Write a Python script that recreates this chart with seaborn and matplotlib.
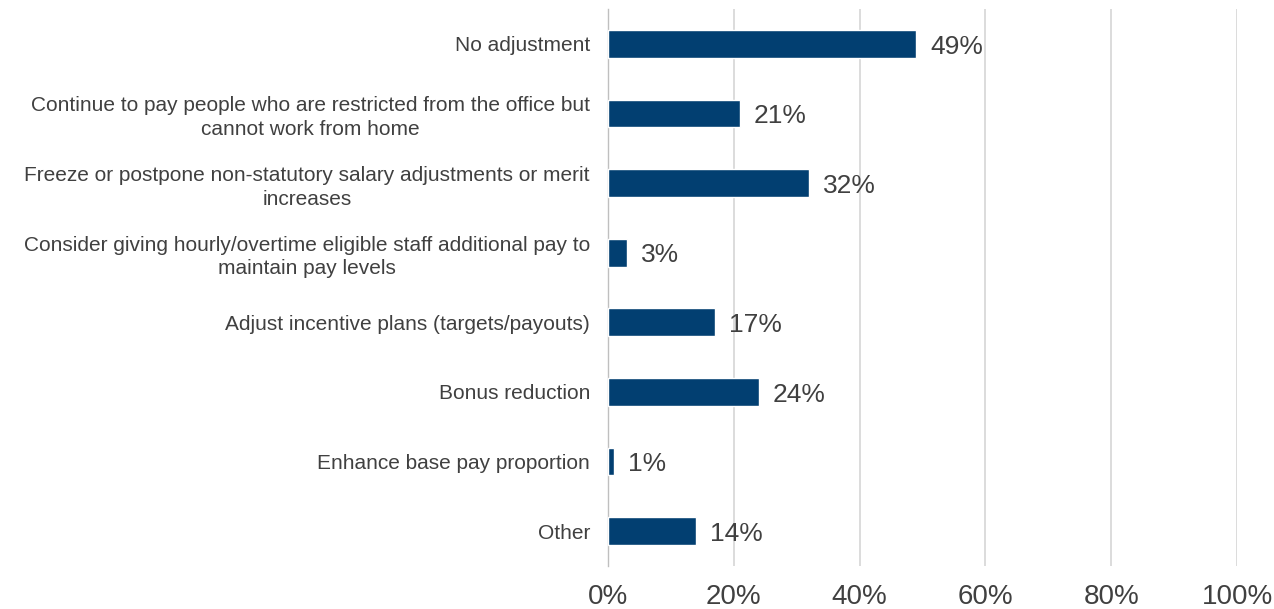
import matplotlib
matplotlib.use("Agg")
import matplotlib.pyplot as plt
import seaborn as sns
import pandas as pd
from matplotlib.ticker import FixedLocator, PercentFormatter

categories = [
    "No adjustment",
    "Continue to pay people who are restricted from the office but\ncannot work from home",
    "Freeze or postpone non-statutory salary adjustments or merit\nincreases",
    "Consider giving hourly/overtime eligible staff additional pay to\nmaintain pay levels",
    "Adjust incentive plans (targets/payouts)",
    "Bonus reduction",
    "Enhance base pay proportion",
    "Other",
]
values = [49, 21, 32, 3, 17, 24, 1, 14]
x_ticks = [0, 20, 40, 60, 80, 100]

bar_color = "#023F71"
text_color = "#404040"
grid_color = "#D9D9D9"

sns.set_theme(style="white")
plt.rcParams["font.family"] = ["Liberation Sans", "DejaVu Sans"]

df = pd.DataFrame({"category": categories, "value": values})

fig = plt.figure(figsize=(12.74, 6.09), dpi=100)
ax = fig.add_axes([608 / 1274, 1 - 566 / 609, (1237 - 608) / 1274, (566 - 9) / 609])

sns.barplot(data=df, x="value", y="category", orient="h", color=bar_color,
            width=0.4, saturation=1, ax=ax, zorder=3)

ax.set_xlim(0, 100)
ax.set_ylim(len(categories) - 0.5, -0.5)
ax.xaxis.set_major_locator(FixedLocator(x_ticks))
ax.xaxis.set_major_formatter(PercentFormatter(decimals=0))
ax.grid(axis="x", color=grid_color, linewidth=1.3, zorder=0)
ax.grid(axis="y", visible=False)

for s in ["top", "right", "bottom"]:
    ax.spines[s].set_visible(False)
ax.spines["left"].set_color("#BFBFBF")
ax.spines["left"].set_linewidth(1.0)

ax.set_xlabel("")
ax.set_ylabel("")
ax.tick_params(axis="x", length=0, labelsize=20, labelcolor=text_color, pad=13)
ax.set_yticks(range(len(categories)))
ax.set_yticklabels(categories, linespacing=1.3)
ax.tick_params(axis="y", which="major", length=0, labelsize=15, labelcolor=text_color, pad=13)
for lbl in ax.get_yticklabels():
    lbl.set_multialignment("center")

# small outward ticks on the category axis between groups
ax.yaxis.set_minor_locator(FixedLocator([i + 0.5 for i in range(-1, len(categories))]))
ax.tick_params(axis="y", which="minor", length=5, width=1, color="#BFBFBF", direction="out")

for i, v in enumerate(values):
    ax.annotate(f"{v}%", xy=(v, i), xytext=(10, -2), textcoords="offset points",
                ha="left", va="center", fontsize=19, color=text_color)

fig.savefig("out.png", dpi=100, facecolor="white")
